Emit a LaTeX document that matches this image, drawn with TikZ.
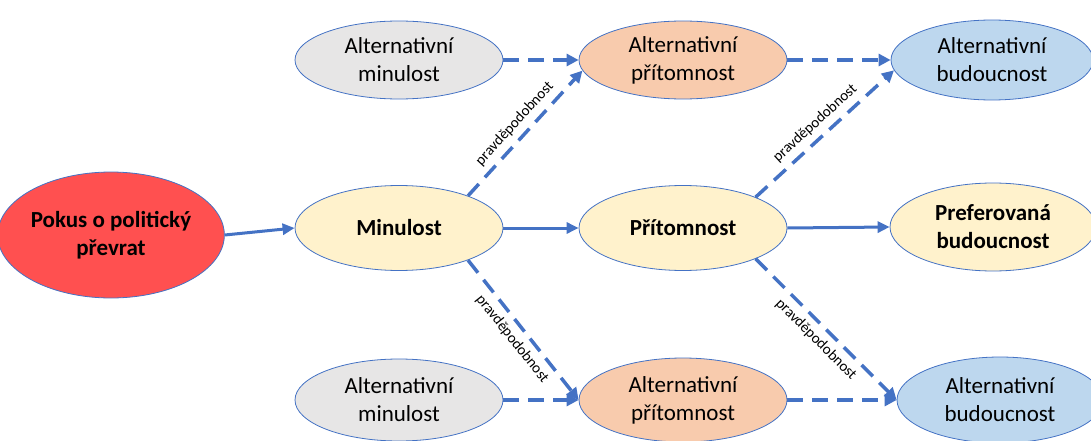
\documentclass[tikz,border=0pt]{standalone}
\usepackage{fontspec}
\setmainfont{Carlito}
\usetikzlibrary{shapes.geometric,arrows.meta}
\definecolor{lnblue}{HTML}{4472C4}
\definecolor{redfill}{HTML}{FF5050}
\definecolor{grayfill}{HTML}{E7E6E6}
\definecolor{orangefill}{HTML}{F8CBAD}
\definecolor{bluefill}{HTML}{BDD7EE}
\definecolor{yellowfill}{HTML}{FFF2CC}
\tikzset{
  ell/.style={ellipse, draw=lnblue, line width=0.8pt, inner sep=0pt, align=center,
    font=\fontsize{23}{28}\selectfont},
  boldell/.style={ell, font=\fontsize{23}{28}\selectfont\bfseries},
  solidarrow/.style={draw=lnblue, line width=3pt, -{Triangle[length=12pt,width=11pt]}},
  dasharrow/.style={draw=lnblue, line width=3.5pt, dash pattern=on 16pt off 9pt,
    -{Triangle[length=12pt,width=12pt]}},
  lbl/.style={font=\fontsize{15}{17}\selectfont, inner sep=2pt}
}
\begin{document}
\begin{tikzpicture}[x=1pt,y=-1pt]
\path[use as bounding box] (0,0) rectangle (1091,441);
\clip (0,0) rectangle (1091,441);
% nodes
\node[boldell, fill=redfill, minimum width=208pt, minimum height=126pt] (pokus) at (111,235) {Pokus o politický\\převrat};
\node[ell, fill=grayfill, minimum width=208pt, minimum height=78pt] (am1) at (399,60) {Alternativní\\minulost};
\node[ell, fill=orangefill, minimum width=208pt, minimum height=78pt] (ap1) at (683,60) {Alternativní\\přítomnost};
\node[ell, fill=bluefill, minimum width=202pt, minimum height=80pt] (ab1) at (992,60) {Alternativní\\budoucnost};
\node[boldell, fill=yellowfill, minimum width=208pt, minimum height=85pt] (min) at (399,228) {Minulost};
\node[boldell, fill=yellowfill, minimum width=208pt, minimum height=85pt] (pri) at (683,228) {Přítomnost};
\node[boldell, fill=yellowfill, minimum width=206pt, minimum height=88pt] (pref) at (993,227) {Preferovaná\\budoucnost};
\node[ell, fill=grayfill, minimum width=208pt, minimum height=82pt] (am2) at (399,400) {Alternativní\\minulost};
\node[ell, fill=orangefill, minimum width=208pt, minimum height=84pt] (ap2) at (683,400) {Alternativní\\přítomnost};
\node[ell, fill=bluefill, minimum width=206pt, minimum height=86pt] (ab2) at (1000,400) {Alternativní\\budoucnost};
% solid arrows
\draw[solidarrow] (pokus.east) -- (min.west);
\draw[solidarrow] (min.east) -- (pri.west);
\draw[solidarrow] (pri.east) -- (pref.west);
% dashed arrows
\draw[dasharrow] (am1.east) -- (ap1.west);
\draw[dasharrow] (ap1.east) -- (ab1.west);
\draw[dasharrow] (am2.east) -- (ap2.west);
\draw[dasharrow] (ap2.east) -- (ab2.west);
\draw[dasharrow] (min.25) -- node[lbl, midway, sloped, above=4pt] {pravděpodobnost} (ap1.186);
\draw[dasharrow] (pri.23) -- node[lbl, midway, sloped, above=4pt] {pravděpodobnost} (ab1.186);
\draw[dasharrow] (min.-25) -- node[lbl, midway, sloped, below=4pt] {pravděpodobnost} (ap2.west);
\draw[dasharrow] (pri.-23) -- node[lbl, midway, sloped, below=4pt] {pravděpodobnost} (ab2.west);
\end{tikzpicture}
\end{document}
